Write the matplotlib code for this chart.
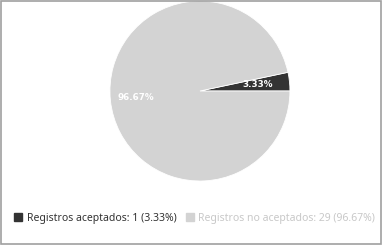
import numpy as np
import matplotlib.pyplot as plt
from matplotlib.patches import Rectangle

labels = ["Registros aceptados", "Registros no aceptados"]
counts = [1, 29]
colors = ["#333333", "#d3d3d3"]
text_colors = ["#333333", "#c8c8c8"]
label_dist = [0.64, 0.72]

plt.rcParams["font.family"] = ["Noto Sans", "DejaVu Sans"]

fig = plt.figure(figsize=(3.83, 2.45), dpi=100)
fig.patch.set_facecolor("white")
fig.add_artist(Rectangle((0.002, 0.004), 0.994, 0.992, transform=fig.transFigure,
                         fill=False, edgecolor="#a0a0a0", linewidth=1.2))

ax = fig.add_axes([0.287, 0.261, 0.470, 0.735])
total = sum(counts)
pcts = [c / total * 100 for c in counts]
wedges, _ = ax.pie(counts, colors=colors, startangle=0, counterclock=True,
                   wedgeprops=dict(edgecolor="white", linewidth=0.6))
for w, p, d in zip(wedges, pcts, label_dist):
  ang = np.deg2rad((w.theta1 + w.theta2) / 2)
  ax.text(d * np.cos(ang), d * np.sin(ang), f"{p:.2f}%", ha="center", va="center",
          color="white", fontsize=6.3, fontweight="bold", family="DejaVu Sans")
ax.set_aspect("equal")
ax.set_xlim(-1, 1)
ax.set_ylim(-1, 1)

handles = [Rectangle((0, 0), 1, 1, color=c) for c in colors]
leg_labels = [f"{l}: {c} ({p:.2f}%)" for l, c, p in zip(labels, counts, pcts)]
leg = fig.legend(handles, leg_labels, loc="center", bbox_to_anchor=(0.508, 0.11), ncol=2,
                 frameon=False, fontsize=7.5, handlelength=0.8, handleheight=0.8,
                 handletextpad=0.4, columnspacing=0.9)
for t, c in zip(leg.get_texts(), text_colors):
  t.set_color(c)

fig.savefig("out.png", dpi=100)
